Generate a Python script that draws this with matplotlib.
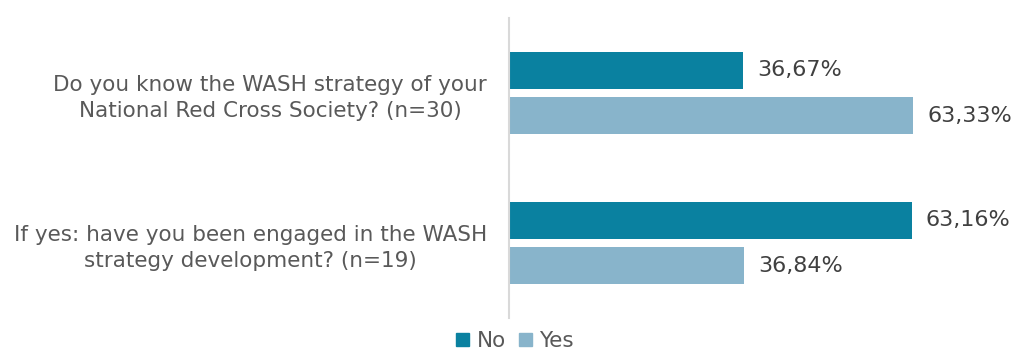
import matplotlib.pyplot as plt
import numpy as np
from matplotlib.patches import Patch

# Survey answers (share of respondents)
questions = ["Do you know the WASH strategy of your\nNational Red Cross Society? (n=30)",
             "If yes: have you been engaged in the WASH\nstrategy development? (n=19)"]
no_vals = [0.3667, 0.6316]
yes_vals = [0.6333, 0.3684]
no_labels = ["36,67%", "63,16%"]
yes_labels = ["63,33%", "36,84%"]

col_no = "#0a81a0"
col_yes = "#88b4cb"
txt = "#595959"

fig = plt.figure(figsize=(10.16, 3.51), dpi=100)
W, H = 1016, 351
ax = fig.add_axes([509/W, 1-318/H, 446.6/W, 300/H])

y = np.arange(len(questions))
h = 0.253
off = 0.15
ax.barh(y-off, no_vals, height=h, color=col_no)
ax.barh(y+off, yes_vals, height=h, color=col_yes)

for i in range(len(questions)):
    ax.text(no_vals[i]+0.022, y[i]-off, no_labels[i], va='center', ha='left', fontsize=16, color="#404040")
    ax.text(yes_vals[i]+0.022, y[i]+off, yes_labels[i], va='center', ha='left', fontsize=16, color="#404040")

ax.set_xlim(0, 0.7)
ax.set_ylim(1.5, -0.5)
ax.set_yticks(y)
ax.set_yticklabels(questions, fontsize=15.5, color=txt, multialignment='center', linespacing=1.4)
ax.tick_params(axis='y', length=0, pad=16)
ax.set_xticks([])
for s in ['top', 'right', 'bottom']:
    ax.spines[s].set_visible(False)
ax.spines['left'].set_color('#d9d9d9')
ax.spines['left'].set_linewidth(1.5)

handles = [Patch(color=col_no, label="No"), Patch(color=col_yes, label="Yes")]
fig.legend(handles=handles, loc='center', bbox_to_anchor=(515/W, 1-341/H), ncol=2, frameon=False,
           fontsize=15.5, labelcolor=txt, handlelength=0.6, handleheight=0.6, handletextpad=0.35,
           columnspacing=0.6)

fig.savefig("out.png", dpi=100)
